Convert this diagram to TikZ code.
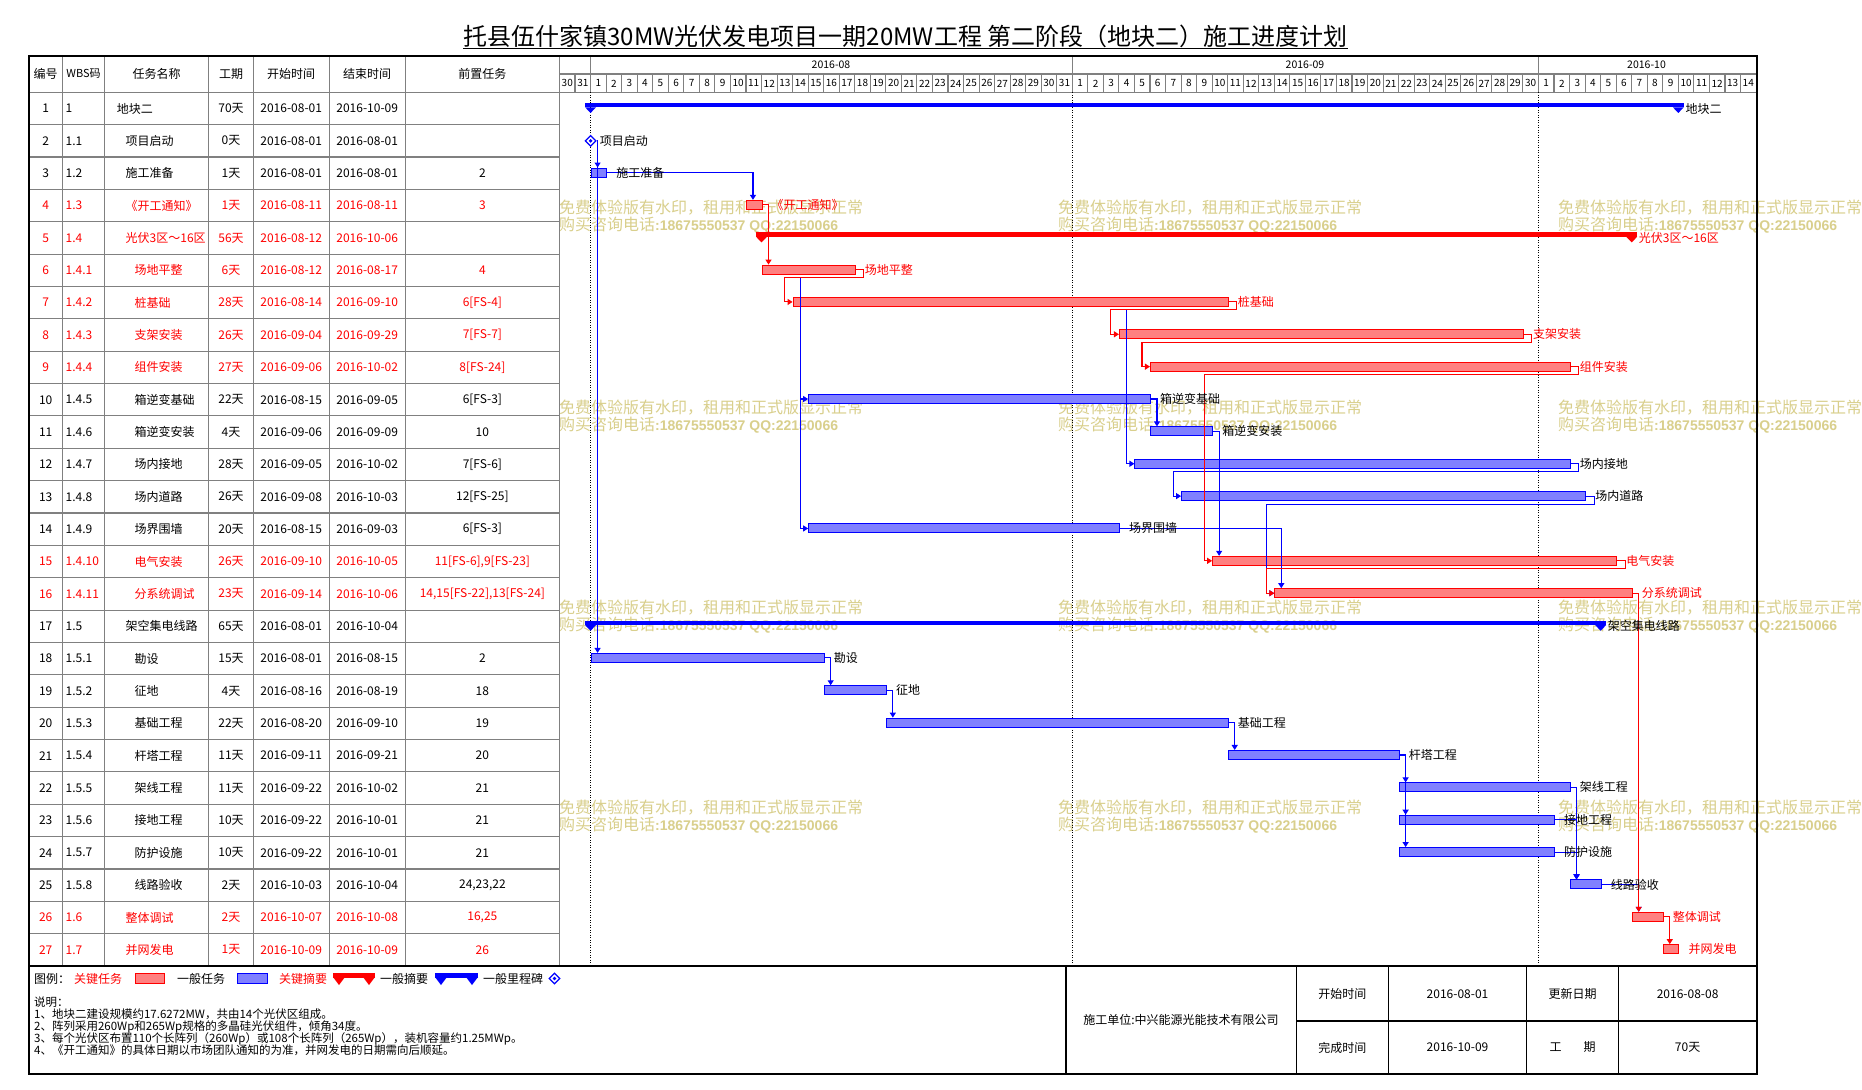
\documentclass[tikz,border=0pt]{standalone}
\usepackage{fontspec}
\setmainfont{Noto Sans CJK SC}
\newfontfamily\wmlat{Liberation Sans}
\usetikzlibrary{arrows.meta,shapes.geometric}
\definecolor{wmc}{RGB}{217,207,140}
\definecolor{gridc}{RGB}{128,128,128}
\definecolor{cred}{RGB}{255,0,0}
\definecolor{cblue}{RGB}{0,0,255}
\newcommand\fs[1]{\fontsize{#1}{#1}\selectfont}
\newcommand\trow[9]{%
  \pgfmathsetmacro\rowY{76.12+32.36*#1}%
  \node[txt,text=#2] (no#1) at (45.7,\rowY) {#1};
  \node[txt,text=#2,anchor=west] (wbs#1) at (65.5,\rowY) {#3};
  \node[txt,text=#2,anchor=west] (nm#1) at (#4,\rowY) {#5};
  \node[txt,text=#2] (du#1) at (231,\rowY) {#6};
  \node[txt,text=#2] (st#1) at (291.2,\rowY) {#7};
  \node[txt,text=#2] (en#1) at (367.2,\rowY) {#8};
  \node[txt,text=#2] (pr#1) at (482.4,\rowY) {#9};
}
\newcommand\gtask[5]{\node[#5,minimum width={(#3-#2)*15.539},anchor=west] (#1) at ({559.5+#2*15.539},{75.42+32.36*#4}) {};}
\newcommand\glabel[3]{\node[lbl,text=#2,anchor=west] (l#1) at ([xshift=9pt]#1.east) {#3};}
\newcommand\summ[5]{%
  \pgfmathsetmacro\smA{559.5+#2*15.539}%
  \pgfmathsetmacro\smB{559.5+#3*15.539}%
  \pgfmathsetmacro\smY{76.12+32.36*#4}%
  \fill[#5] (\smA-5.5,\smY-5.5) rectangle (\smB+5.5,\smY-1);
  \fill[#5] (\smA-5.5,\smY-1.2) -- (\smA+5.5,\smY-1.2) -- (\smA,\smY+4.5) -- cycle;
  \fill[#5] (\smB-5.5,\smY-1.2) -- (\smB+5.5,\smY-1.2) -- (\smB,\smY+4.5) -- cycle;
  \coordinate (#1) at (\smB,\smY);
}
\newcommand\cdown[3]{\draw[#3] (#1.east) -| ([xshift=7pt]#2.north west);}
\newcommand\caround[3]{\draw[#3] (#1.east) -- ++(8,0) -- ++(0,8) -| ([xshift=-8pt]#2.west) -- (#2.west);}
\begin{document}
\begin{tikzpicture}[x=1pt,y=-1pt,
  txt/.style={inner sep=0pt,font=\fs{12}},
  lbl/.style={inner sep=0pt,font=\fs{12}},
  hdr/.style={inner sep=0pt,font=\fs{12}},
  day/.style={inner sep=0pt,font=\fs{10}},
  wm/.style={inner sep=0pt,anchor=west,text=wmc,font=\fs{16}},
  gridl/.style={draw=gridc,line width=1.1pt},
  cbar/.style={draw=cred,fill=cred!50,line width=1pt,inner sep=0pt,minimum height=9pt},
  nbar/.style={draw=cblue,fill=cblue!50,line width=1pt,inner sep=0pt,minimum height=9pt},
  conb/.style={draw=cblue,line width=1.1pt,-{Triangle[length=5pt,width=6pt]}},
  conr/.style={draw=cred,line width=1.1pt,-{Triangle[length=5pt,width=6pt]}},
  boxl/.style={draw=black,line width=1.3pt}
]
\useasboundingbox (0,0) rectangle (1862,1089);
\fill[white] (0,0) rectangle (1862,1089);

% title
\node[inner sep=0pt,font=\fs{24}] (title) at (905.5,36) {托县伍什家镇30MW光伏发电项目一期20MW工程 第二阶段（地块二）施工进度计划};
\draw[line width=1.3pt] ([yshift=-1pt]title.south west) -- ([yshift=-1pt]title.south east);

% watermarks
\foreach \wx [count=\i] in {559,1058,1558}{
  \foreach \wy [count=\j] in {207.5,407.5,607.5,807.5}{
    \node[wm] (wma\i\j) at (\wx,\wy) {免费体验版有水印，租用和正式版显示正常};
    \node[wm] (wmb\i\j) at (\wx,\wy+17.5) {购买咨询电话{\wmlat\bfseries\fs{14}:18675550537 QQ:22150066}};
  }
}

% table grid
\foreach \k in {1,...,26} \draw[gridl] (29,{92.3+32.36*\k}) -- (559.5,{92.3+32.36*\k});
\draw[gridl] (29,92.3) -- (1756,92.3);
\foreach \cx in {62.4,104.5,208.6,253.3,329.1,405.3,559.5} \draw[gridl] (\cx,56) -- (\cx,966);
\draw[gridl] (559.5,74) -- (1756,74);
\foreach \m in {2,33,63} \draw[gridl] ({559.5+\m*15.539},56) -- ({559.5+\m*15.539},74);
\foreach \i in {1,...,76} \draw[gridl] ({559.5+\i*15.539},74) -- ({559.5+\i*15.539},92.3);
\foreach \m in {2,33,63} \draw[black,line width=1pt,dash pattern=on 1pt off 1.5pt] ({559.5+\m*15.539},92.3) -- ({559.5+\m*15.539},966);

% headers
\node[hdr] (h1) at (45.7,74) {编号};
\node[hdr,font=\fs{11}] (h2) at (83.5,74) {WBS码};
\node[hdr] (h3) at (156.5,74) {任务名称};
\node[hdr] (h4) at (231,74) {工期};
\node[hdr] (h5) at (291.2,74) {开始时间};
\node[hdr] (h6) at (367.2,74) {结束时间};
\node[hdr] (h7) at (482.4,74) {前置任务};
\node[day,font=\fs{10.5}] (mo8) at (831,65) {2016-08};
\node[day,font=\fs{10.5}] (mo9) at (1305,65) {2016-09};
\node[day,font=\fs{10.5}] (mo10) at (1646.5,65) {2016-10};
\foreach \i in {0,...,76}{
  \pgfmathtruncatemacro\dn{\i<2 ? 30+\i : (\i<33 ? \i-1 : (\i<63 ? \i-32 : \i-62))}
  \node[day] (d\i) at ({559.5+(\i+0.5)*15.539},83.4) {\dn};
}

% table rows
\trow{1}{black}{1}{116.7}{地块二}{70天}{2016-08-01}{2016-10-09}{}
\trow{2}{black}{1.1}{125.5}{项目启动}{0天}{2016-08-01}{2016-08-01}{}
\trow{3}{black}{1.2}{125.5}{施工准备}{1天}{2016-08-01}{2016-08-01}{2}
\trow{4}{cred}{1.3}{125.5}{《开工通知》}{1天}{2016-08-11}{2016-08-11}{3}
\trow{5}{cred}{1.4}{125.5}{光伏3区～16区}{56天}{2016-08-12}{2016-10-06}{}
\trow{6}{cred}{1.4.1}{134.3}{场地平整}{6天}{2016-08-12}{2016-08-17}{4}
\trow{7}{cred}{1.4.2}{134.3}{桩基础}{28天}{2016-08-14}{2016-09-10}{6[FS-4]}
\trow{8}{cred}{1.4.3}{134.3}{支架安装}{26天}{2016-09-04}{2016-09-29}{7[FS-7]}
\trow{9}{cred}{1.4.4}{134.3}{组件安装}{27天}{2016-09-06}{2016-10-02}{8[FS-24]}
\trow{10}{black}{1.4.5}{134.3}{箱逆变基础}{22天}{2016-08-15}{2016-09-05}{6[FS-3]}
\trow{11}{black}{1.4.6}{134.3}{箱逆变安装}{4天}{2016-09-06}{2016-09-09}{10}
\trow{12}{black}{1.4.7}{134.3}{场内接地}{28天}{2016-09-05}{2016-10-02}{7[FS-6]}
\trow{13}{black}{1.4.8}{134.3}{场内道路}{26天}{2016-09-08}{2016-10-03}{12[FS-25]}
\trow{14}{black}{1.4.9}{134.3}{场界围墙}{20天}{2016-08-15}{2016-09-03}{6[FS-3]}
\trow{15}{cred}{1.4.10}{134.3}{电气安装}{26天}{2016-09-10}{2016-10-05}{11[FS-6],9[FS-23]}
\trow{16}{cred}{1.4.11}{134.3}{分系统调试}{23天}{2016-09-14}{2016-10-06}{14,15[FS-22],13[FS-24]}
\trow{17}{black}{1.5}{125.5}{架空集电线路}{65天}{2016-08-01}{2016-10-04}{}
\trow{18}{black}{1.5.1}{134.3}{勘设}{15天}{2016-08-01}{2016-08-15}{2}
\trow{19}{black}{1.5.2}{134.3}{征地}{4天}{2016-08-16}{2016-08-19}{18}
\trow{20}{black}{1.5.3}{134.3}{基础工程}{22天}{2016-08-20}{2016-09-10}{19}
\trow{21}{black}{1.5.4}{134.3}{杆塔工程}{11天}{2016-09-11}{2016-09-21}{20}
\trow{22}{black}{1.5.5}{134.3}{架线工程}{11天}{2016-09-22}{2016-10-02}{21}
\trow{23}{black}{1.5.6}{134.3}{接地工程}{10天}{2016-09-22}{2016-10-01}{21}
\trow{24}{black}{1.5.7}{134.3}{防护设施}{10天}{2016-09-22}{2016-10-01}{21}
\trow{25}{black}{1.5.8}{134.3}{线路验收}{2天}{2016-10-03}{2016-10-04}{24,23,22}
\trow{26}{cred}{1.6}{125.5}{整体调试}{2天}{2016-10-07}{2016-10-08}{16,25}
\trow{27}{cred}{1.7}{125.5}{并网发电}{1天}{2016-10-09}{2016-10-09}{26}

% gantt bars
\summ{s1}{2}{72}{1}{cblue}
\summ{s5}{13}{69}{5}{cred}
\summ{s17}{2}{67}{17}{cblue}
\node[diamond,draw=cblue,line width=1.2pt,fill=white,minimum width=11pt,minimum height=11pt,inner sep=0pt] (m2) at (590.58,140.84) {};
\node[diamond,fill=cblue,minimum width=4pt,minimum height=4pt,inner sep=0pt] (m2i) at (m2.center) {};
\gtask{t3}{2}{3}{3}{nbar}
\gtask{t4}{12}{13}{4}{cbar}
\gtask{t6}{13}{19}{6}{cbar}
\gtask{t7}{15}{43}{7}{cbar}
\gtask{t8}{36}{62}{8}{cbar}
\gtask{t9}{38}{65}{9}{cbar}
\gtask{t10}{16}{38}{10}{nbar}
\gtask{t11}{38}{42}{11}{nbar}
\gtask{t12}{37}{65}{12}{nbar}
\gtask{t13}{40}{66}{13}{nbar}
\gtask{t14}{16}{36}{14}{nbar}
\gtask{t15}{42}{68}{15}{cbar}
\gtask{t16}{46}{69}{16}{cbar}
\gtask{t18}{2}{17}{18}{nbar}
\gtask{t19}{17}{21}{19}{nbar}
\gtask{t20}{21}{43}{20}{nbar}
\gtask{t21}{43}{54}{21}{nbar}
\gtask{t22}{54}{65}{22}{nbar}
\gtask{t23}{54}{64}{23}{nbar}
\gtask{t24}{54}{64}{24}{nbar}
\gtask{t25}{65}{67}{25}{nbar}
\gtask{t26}{69}{71}{26}{cbar}
\gtask{t27}{71}{72}{27}{cbar}

% connectors (blue)
\cdown{m2}{t3}{conb}
\cdown{t3}{t4}{conb}
\caround{t6}{t10}{conb}
\caround{t6}{t14}{conb}
\cdown{t10}{t11}{conb}
\caround{t7}{t12}{conb}
\caround{t12}{t13}{conb}
\cdown{t11}{t15}{conb}
\cdown{t14}{t16}{conb}
\caround{t13}{t16}{conb}
\cdown{m2}{t18}{conb}
\cdown{t18}{t19}{conb}
\cdown{t19}{t20}{conb}
\cdown{t20}{t21}{conb}
\cdown{t21}{t22}{conb}
\cdown{t21}{t23}{conb}
\cdown{t21}{t24}{conb}
\cdown{t22}{t25}{conb}
\cdown{t23}{t25}{conb}
\cdown{t24}{t25}{conb}
\cdown{t25}{t26}{conb}
% connectors (red)
\cdown{t4}{t6}{conr}
\caround{t6}{t7}{conr}
\caround{t7}{t8}{conr}
\caround{t8}{t9}{conr}
\caround{t9}{t15}{conr}
\caround{t15}{t16}{conr}
\cdown{t16}{t26}{conr}
\cdown{t26}{t27}{conr}

% bar labels
\node[lbl,anchor=west] (ls1) at ([xshift=7pt]s1) {地块二};
\node[lbl,anchor=west] (lm2) at ([xshift=3pt]m2.east) {项目启动};
\glabel{t3}{black}{施工准备}
\glabel{t4}{cred}{《开工通知》}
\node[lbl,anchor=west,text=cred] (ls5) at ([xshift=7pt]s5) {光伏3区～16区};
\glabel{t6}{cred}{场地平整}
\glabel{t7}{cred}{桩基础}
\glabel{t8}{cred}{支架安装}
\glabel{t9}{cred}{组件安装}
\glabel{t10}{black}{箱逆变基础}
\glabel{t11}{black}{箱逆变安装}
\glabel{t12}{black}{场内接地}
\glabel{t13}{black}{场内道路}
\glabel{t14}{black}{场界围墙}
\glabel{t15}{cred}{电气安装}
\glabel{t16}{cred}{分系统调试}
\node[lbl,anchor=west] (ls17) at ([xshift=7pt]s17) {架空集电线路};
\glabel{t18}{black}{勘设}
\glabel{t19}{black}{征地}
\glabel{t20}{black}{基础工程}
\glabel{t21}{black}{杆塔工程}
\glabel{t22}{black}{架线工程}
\glabel{t23}{black}{接地工程}
\glabel{t24}{black}{防护设施}
\glabel{t25}{black}{线路验收}
\glabel{t26}{cred}{整体调试}
\glabel{t27}{cred}{并网发电}

% legend
\node[txt,anchor=west] (lg0) at (34,978.5) {图例：};
\node[txt,anchor=west,text=cred] (lg1) at (74,978.5) {关键任务};
\node[cbar,minimum width=29pt,minimum height=10pt] (lg2) at (149.5,978.5) {};
\node[txt,anchor=west] (lg3) at (177,978.5) {一般任务};
\node[nbar,minimum width=30pt,minimum height=10pt] (lg4) at (252,978.5) {};
\node[txt,anchor=west,text=cred] (lg5) at (279,978.5) {关键摘要};
\fill[cred] (333,972.5) rectangle (375,977.5);
\fill[cred] (333,977) -- (345,977) -- (339,985) -- cycle;
\fill[cred] (363,977) -- (375,977) -- (369,985) -- cycle;
\node[txt,anchor=west] (lg6) at (380,978.5) {一般摘要};
\fill[cblue] (435,972.5) rectangle (478,977.5);
\fill[cblue] (435,977) -- (447,977) -- (441,985) -- cycle;
\fill[cblue] (466,977) -- (478,977) -- (472,985) -- cycle;
\node[txt,anchor=west] (lg7) at (483,978.5) {一般里程碑};
\node[diamond,draw=cblue,line width=1.2pt,fill=white,minimum width=11pt,minimum height=11pt,inner sep=0pt] (lg8) at (554.5,978.5) {};
\node[diamond,fill=cblue,minimum width=4pt,minimum height=4pt,inner sep=0pt] (lg8i) at (lg8.center) {};

% notes
\node[txt,anchor=west,font=\fs{11.5}] (n0) at (34,1002) {说明：};
\node[txt,anchor=west,font=\fs{11.5}] (n1) at (34,1014.5) {1、地块二建设规模约17.6272MW，共由14个光伏区组成。};
\node[txt,anchor=west,font=\fs{11.5}] (n2) at (34,1026.5) {2、阵列采用260Wp和265Wp规格的多晶硅光伏组件，倾角34度。};
\node[txt,anchor=west,font=\fs{11.5}] (n3) at (34,1038.5) {3、每个光伏区布置110个长阵列（260Wp）或108个长阵列（265Wp），装机容量约1.25MWp。};
\node[txt,anchor=west,font=\fs{11.5}] (n4) at (34,1050.5) {4、《开工通知》的具体日期以市场团队通知的为准，并网发电的日期需向后顺延。};

% info box
\draw[boxl] (1066,966) -- (1066,1074);
\draw[boxl] (1296.3,966) -- (1296.3,1074);
\draw[boxl] (1388.4,966) -- (1388.4,1074);
\draw[boxl] (1526.5,966) -- (1526.5,1074);
\draw[boxl] (1618.6,966) -- (1618.6,1074);
\draw[boxl] (1296.3,1021) -- (1757,1021);
\node[txt] (bx1) at (1181,1020) {施工单位:中兴能源光能技术有限公司};
\node[txt] (bx2) at (1342.4,994) {开始时间};
\node[txt] (bx3) at (1457.5,994) {2016-08-01};
\node[txt] (bx4) at (1572.5,994) {更新日期};
\node[txt] (bx5) at (1687.6,994) {2016-08-08};
\node[txt] (bx6) at (1342.4,1047.5) {完成时间};
\node[txt] (bx7) at (1457.5,1047.5) {2016-10-09};
\node[txt] (bx8) at (1572.5,1047.5) {工\hspace{22pt}期};
\node[txt] (bx9) at (1687.6,1047.5) {70天};

% frame
\draw[line width=2.5pt] (29,56) rectangle (1757,1074);
\draw[line width=2.5pt] (29,966) -- (1757,966);
\end{tikzpicture}
\end{document}
